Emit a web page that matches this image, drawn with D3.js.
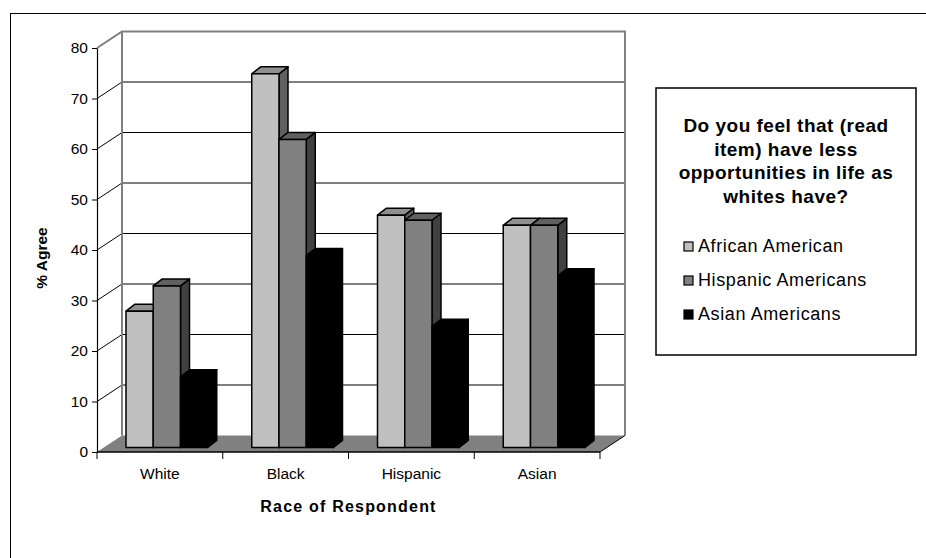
<!DOCTYPE html>
<html>
<head>
<meta charset="utf-8">
<script src="https://cdn.jsdelivr.net/npm/d3@7"></script>
<style>
  html, body { margin: 0; padding: 0; background: #fff; }
  svg { display: block; font-family: "Liberation Sans", Arial, sans-serif; }
</style>
</head>
<body>
<svg id="chart" width="926" height="558"></svg>
<script>
// Survey data: % who agree, by race of respondent
const categories = ["White", "Black", "Hispanic", "Asian"];
const seriesNames = ["African American", "Hispanic Americans", "Asian Americans"];
const africanAmerican = [27, 74, 46, 44];
const hispanicAmericans = [32, 61, 45, 44];
const asianAmericans = [14, 38, 24, 34];
const yTicks = [0, 10, 20, 30, 40, 50, 60, 70, 80];
const legendTitle = ["Do you feel that (read", "item) have less", "opportunities in life as", "whites have?"];

const seriesValues = [africanAmerican, hispanicAmericans, asianAmericans];
const frontFill = ["#C0C0C0", "#808080", "#000000"];
const topFill   = ["#909090", "#606060", "#000000"];
const sideFill  = ["#606060", "#404040", "#000000"];

const svg = d3.select("#chart");

// outer chart frame
svg.append("rect").attr("x", 10.5).attr("y", 13.5).attr("width", 940).attr("height", 600)
  .attr("fill", "none").attr("stroke", "#000").attr("stroke-width", 1);

// scales: front plane of the 3-D box
const y = d3.scaleLinear().domain([0, 80]).range([452, 48]);
const x0 = d3.scaleBand().domain(categories).range([97, 600]);
const x1 = d3.scaleBand().domain(seriesNames).range([22, x0.bandwidth() - 22]);

// depth offsets: walls, bar front face, bar thickness
const DX = 25, DY = -16.5;
const FX = 7, FY = -4.5;
const BX = 9, BY = -7;

const [xL, xR] = x0.range();
const y0 = y(0), yTop = y(80);
const g = svg.append("g");
const pts = a => a.map(p => p.join(",")).join(" ");

// back wall
g.append("rect").attr("x", xL + DX).attr("y", yTop + DY)
  .attr("width", xR - xL).attr("height", y0 - yTop).attr("fill", "#fff");

// gridlines on back wall plus diagonals across side wall
yTicks.filter(v => v > 0 && v < 80).forEach(v => {
  g.append("line").attr("x1", xL + DX).attr("x2", xR + DX)
    .attr("y1", y(v) + DY).attr("y2", y(v) + DY).attr("stroke", "#000").attr("stroke-width", 1);
  g.append("line").attr("x1", xL).attr("y1", y(v)).attr("x2", xL + DX).attr("y2", y(v) + DY)
    .attr("stroke", "#000").attr("stroke-width", 1);
});

// wall outline in grey
g.append("polyline").attr("points", pts([
  [xL, yTop], [xL + DX, yTop + DY], [xR + DX, yTop + DY], [xR + DX, y0 + DY]
])).attr("fill", "none").attr("stroke", "#808080").attr("stroke-width", 2);
g.append("line").attr("x1", xL + DX).attr("x2", xL + DX).attr("y1", yTop + DY).attr("y2", y0 + DY)
  .attr("stroke", "#808080").attr("stroke-width", 2);

// floor
g.append("polygon").attr("points", pts([
  [xL, y0], [xR, y0], [xR + DX, y0 + DY], [xL + DX, y0 + DY]
])).attr("fill", "#808080").attr("stroke", "none");
g.append("line").attr("x1", xR).attr("y1", y0).attr("x2", xR + DX).attr("y2", y0 + DY)
  .attr("stroke", "#000").attr("stroke-width", 1);

// bars, drawn left to right so each front face hides its neighbour's side
const bars = g.append("g").attr("stroke", "#000").attr("stroke-width", 1.5).attr("stroke-linejoin", "round");
categories.forEach((c, ci) => {
  seriesNames.forEach((s, si) => {
    const v = seriesValues[si][ci];
    const xl = x0(c) + x1(s) + FX, xr = xl + x1.bandwidth();
    const yt = y(v) + FY, yb = y(0) + FY;
    bars.append("polygon").attr("points", pts([[xr, yt], [xr + BX, yt + BY], [xr + BX, yb + BY], [xr, yb]]))
      .attr("fill", sideFill[si]);
    bars.append("polygon").attr("points", pts([[xl, yt], [xr, yt], [xr + BX, yt + BY], [xl + BX, yt + BY]]))
      .attr("fill", topFill[si]);
    bars.append("rect").attr("x", xl).attr("y", yt).attr("width", xr - xl).attr("height", yb - yt)
      .attr("fill", frontFill[si]);
  });
});

// y axis
const yAxis = svg.append("g").attr("transform", `translate(${xL},0)`)
  .call(d3.axisLeft(y).tickValues(yTicks).tickSize(5).tickPadding(4).tickSizeOuter(0));
yAxis.select(".domain").attr("stroke", "#000").attr("stroke-width", 1.2);
yAxis.selectAll(".tick line").attr("stroke", "#000");
yAxis.selectAll(".tick text").attr("font-size", 15.5).attr("fill", "#000")
  .attr("font-family", "Liberation Sans, Arial, sans-serif");

// x axis with ticks on category boundaries
const xAxisG = svg.append("g").attr("transform", `translate(0,${y0})`);
xAxisG.append("line").attr("x1", xL).attr("x2", xR).attr("stroke", "#000").attr("stroke-width", 1.5);
const boundaries = categories.map(c => x0(c)).concat([xR]);
xAxisG.selectAll("line.tk").data(boundaries).join("line").attr("class", "tk")
  .attr("x1", d => d).attr("x2", d => d).attr("y1", 0).attr("y2", 7).attr("stroke", "#000");
xAxisG.selectAll("text").data(categories).join("text")
  .attr("x", d => x0(d) + x0.bandwidth() / 2).attr("y", 23)
  .attr("text-anchor", "middle").attr("dominant-baseline", "middle")
  .attr("font-size", 15.5).text(d => d);

// axis titles
svg.append("text").attr("x", (xL + xR) / 2).attr("y", 508)
  .attr("text-anchor", "middle").attr("dominant-baseline", "middle")
  .attr("font-size", 16).attr("font-weight", "bold").attr("letter-spacing", 1.2)
  .text("Race of Respondent");
svg.append("text").attr("transform", "translate(43,258) rotate(-90)")
  .attr("text-anchor", "middle").attr("dominant-baseline", "middle")
  .attr("font-size", 15.5).attr("font-weight", "bold").text("% Agree");

// legend
const lg = svg.append("g");
lg.append("rect").attr("x", 656).attr("y", 88).attr("width", 260).attr("height", 267)
  .attr("fill", "#fff").attr("stroke", "#000").attr("stroke-width", 1.5);
lg.selectAll("text.title").data(legendTitle).join("text").attr("class", "title")
  .attr("x", 786).attr("y", (d, i) => 127 + i * 23.5)
  .attr("text-anchor", "middle").attr("dominant-baseline", "middle")
  .attr("font-size", 19).attr("font-weight", "bold").attr("letter-spacing", 0.5)
  .text(d => d);
const items = lg.selectAll("g.item").data(seriesNames).join("g").attr("class", "item")
  .attr("transform", (d, i) => `translate(684,${247 + i * 34})`);
items.append("rect").attr("x", 0).attr("y", -5).attr("width", 9).attr("height", 9)
  .attr("fill", (d, i) => frontFill[i]).attr("stroke", "#000").attr("stroke-width", 1.2);
items.append("text").attr("x", 14).attr("y", 0).attr("dominant-baseline", "middle")
  .attr("font-size", 18).attr("letter-spacing", 0.6).text(d => d);
</script>
</body>
</html>
